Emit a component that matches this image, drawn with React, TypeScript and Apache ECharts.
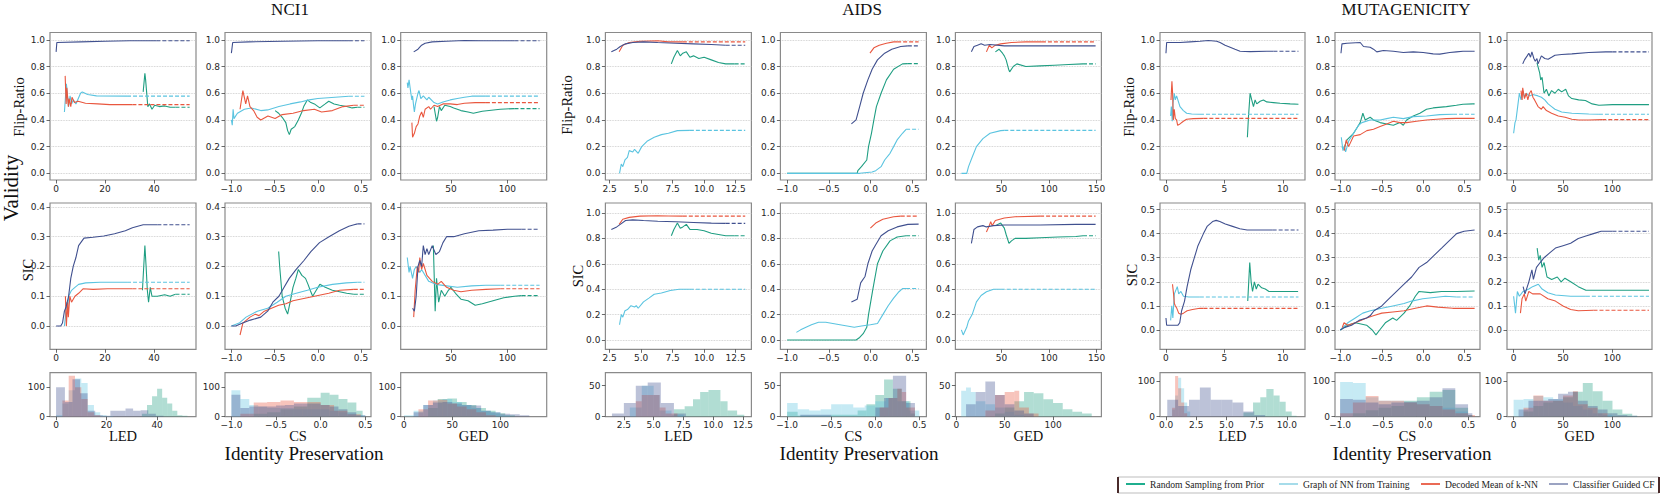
import React, { useEffect, useRef } from "react";
import * as echarts from "echarts";

// ---------------- names ----------------
const seriesNames = ["Random Sampling from Prior", "Graph of NN from Training", "Decoded Mean of k-NN", "Classifier Guided CF"];
const groupTitles = ["NCI1", "AIDS", "MUTAGENICITY"];
const metricNames = ["LED", "CS", "GED"];
const rowNames = ["Flip-Ratio", "SIC"];

// ---------------- NCI1 lines ----------------
const nciLedFlipRnd = [[35.6,0.61],[36.3,0.75],[36.6,0.70],[37.5,0.50],[38.2,0.52],[39.2,0.48],[40.3,0.51],[42.2,0.50],[44.4,0.505],[46.6,0.495],[48.8,0.495]];
const nciLedFlipNn = [[3.4,0.46],[4.2,0.67],[5.1,0.50],[5.7,0.58],[6.3,0.52],[7.0,0.55],[8.1,0.52],[10,0.60],[10.7,0.61],[12.9,0.59],[16.5,0.58],[29,0.578]];
const nciLedFlipDm = [[3.7,0.73],[4.1,0.52],[4.4,0.64],[5.0,0.50],[5.3,0.56],[6.0,0.50],[6.5,0.57],[7.5,0.53],[9,0.54],[12,0.525],[17,0.52],[22,0.515],[31.2,0.515]];
const nciLedFlipCg = [[0,0.91],[0.3,0.98],[10,0.985],[20,0.99],[30,0.993],[41,0.993]];

const nciCsFlipRnd = [[-0.494,0.47],[-0.453,0.45],[-0.412,0.42],[-0.37,0.38],[-0.349,0.32],[-0.329,0.29],[-0.308,0.33],[-0.266,0.35],[-0.225,0.40],[-0.184,0.46],[-0.163,0.50],[-0.121,0.55],[-0.08,0.53],[-0.039,0.52],[0.003,0.50],[0.024,0.49],[0.086,0.52],[0.127,0.54],[0.189,0.52],[0.252,0.51],[0.334,0.50],[0.397,0.49],[0.459,0.495]];
const nciCsFlipNn = [[-1,0.40],[-0.99,0.36],[-0.98,0.48],[-0.97,0.41],[-0.93,0.45],[-0.85,0.48],[-0.77,0.49],[-0.66,0.47],[-0.58,0.475],[-0.45,0.50],[-0.32,0.52],[-0.2,0.535],[-0.1,0.55],[0,0.56],[0.2,0.57],[0.36,0.577]];
const nciCsFlipDm = [[-0.9,0.48],[-0.867,0.62],[-0.834,0.52],[-0.813,0.58],[-0.785,0.50],[-0.743,0.47],[-0.702,0.42],[-0.66,0.40],[-0.577,0.43],[-0.494,0.41],[-0.412,0.44],[-0.287,0.45],[-0.163,0.47],[-0.039,0.48],[0.044,0.46],[0.169,0.47],[0.293,0.50],[0.417,0.51]];
const nciCsFlipCg = [[-1,0.90],[-0.985,0.98],[-0.8,0.985],[-0.4,0.99],[0,0.993],[0.36,0.993]];

const nciGedFlipRnd = [[35.1,0.50],[36.1,0.45],[37.3,0.39],[38.3,0.42],[39.9,0.50],[41.5,0.47],[44.6,0.51],[49.4,0.50],[52.5,0.49],[58.9,0.47],[65.2,0.46],[69.9,0.45],[77.8,0.465],[93.7,0.48],[106.3,0.485]];
const nciGedFlipNn = [[11.4,0.68],[12.0,0.64],[13.0,0.70],[14.6,0.60],[15.5,0.55],[16.1,0.58],[17.1,0.50],[17.7,0.46],[18.7,0.52],[20.9,0.60],[21.8,0.62],[23.4,0.56],[25.6,0.58],[28.8,0.55],[30.4,0.57],[35.1,0.53],[38.3,0.52],[43.0,0.535],[49.4,0.55],[55.7,0.56],[62.0,0.57],[68.4,0.578],[81.0,0.578]];
const nciGedFlipDm = [[15.5,0.38],[16.1,0.27],[17.7,0.30],[19.3,0.35],[20.9,0.37],[22.5,0.43],[24.1,0.46],[25.6,0.42],[27.2,0.48],[30.4,0.50],[32.0,0.48],[35.1,0.51],[38.3,0.50],[43.0,0.52],[49.4,0.52],[55.7,0.515],[62.0,0.525],[71.5,0.53],[81.0,0.53]];
const nciGedFlipCg = [[17.1,0.91],[20.9,0.93],[24.1,0.96],[27.2,0.975],[33.5,0.985],[46.2,0.99],[62.0,0.995],[77.8,0.993],[106.3,0.993]];

const nciLedSicRnd = [[35.3,0.12],[36.3,0.27],[36.8,0.20],[37.3,0.12],[37.8,0.08],[38.5,0.13],[39.2,0.10],[41.4,0.10],[44.4,0.105],[46.6,0.10],[48.8,0.107]];
const nciLedSicNn = [[3.4,0.0],[3.8,0.03],[4.2,0.08],[4.7,0.05],[5.1,0.10],[6.3,0.12],[7.7,0.13],[9.2,0.14],[12.1,0.145],[18,0.147],[29,0.147]];
const nciLedSicDm = [[3.8,0.10],[4.2,0.0],[4.7,0.08],[5.0,0.03],[5.6,0.10],[6.3,0.08],[7.7,0.10],[9.2,0.11],[11,0.125],[15.1,0.123],[21,0.125],[31.2,0.125]];
const nciLedSicCg = [[0,0],[1.9,0],[2.6,0.01],[3.4,0.05],[4.1,0.065],[5.1,0.10],[6.0,0.16],[7.0,0.20],[8.1,0.23],[9.2,0.27],[11.4,0.295],[15.1,0.298],[19.5,0.302],[23.9,0.31],[28.3,0.32],[31.2,0.33],[33.4,0.335],[35.6,0.34],[41.4,0.34]];

const nciCsSicRnd = [[-0.453,0.25],[-0.441,0.20],[-0.412,0.10],[-0.378,0.06],[-0.349,0.04],[-0.32,0.08],[-0.287,0.13],[-0.254,0.16],[-0.225,0.19],[-0.184,0.17],[-0.142,0.16],[-0.113,0.14],[-0.088,0.12],[-0.059,0.10],[-0.018,0.12],[0.024,0.14],[0.086,0.13],[0.169,0.12],[0.252,0.115],[0.334,0.11],[0.417,0.107]];
const nciCsSicNn = [[-1,0],[-0.91,0.01],[-0.83,0.03],[-0.7,0.05],[-0.58,0.06],[-0.47,0.08],[-0.37,0.10],[-0.25,0.11],[-0.12,0.12],[0.0,0.13],[0.17,0.14],[0.33,0.145],[0.46,0.147]];
const nciCsSicDm = [[-0.9,-0.03],[-0.867,0.01],[-0.826,0.02],[-0.785,0.03],[-0.722,0.04],[-0.681,0.035],[-0.619,0.05],[-0.536,0.06],[-0.453,0.07],[-0.37,0.075],[-0.287,0.085],[-0.204,0.09],[-0.121,0.095],[-0.039,0.10],[0.044,0.105],[0.127,0.11],[0.252,0.12],[0.417,0.123]];
const nciCsSicCg = [[-1,0],[-0.95,0],[-0.87,0.01],[-0.78,0.02],[-0.66,0.03],[-0.58,0.05],[-0.52,0.08],[-0.45,0.10],[-0.39,0.13],[-0.33,0.16],[-0.25,0.19],[-0.16,0.22],[-0.08,0.25],[0.02,0.28],[0.13,0.30],[0.25,0.32],[0.36,0.335],[0.42,0.34],[0.46,0.343]];

const nciGedSicRnd = [[34.5,0.27],[36.1,0.05],[37.3,0.16],[39.2,0.08],[41.5,0.12],[44.6,0.10],[47.8,0.12],[50,0.13],[54.1,0.11],[58.9,0.09],[65.2,0.085],[71.5,0.07],[77.8,0.075],[87.3,0.085],[96.8,0.095],[106.3,0.10],[112.6,0.102]];
const nciGedSicNn = [[11.4,0.23],[13.0,0.18],[13.9,0.20],[16.1,0.16],[17.7,0.19],[19.3,0.20],[22.5,0.18],[24.1,0.19],[30.4,0.15],[36.7,0.14],[46.2,0.135],[55.7,0.13],[68.4,0.135],[81.0,0.137],[93.7,0.137]];
const nciGedSicDm = [[17.1,0.03],[18.4,0.12],[20.3,0.20],[21.5,0.18],[22.5,0.23],[24.1,0.19],[25.6,0.21],[28.8,0.17],[33.5,0.15],[38.3,0.14],[41.5,0.15],[46.2,0.13],[52.5,0.12],[58.9,0.115],[68.4,0.12],[81.0,0.123],[93.7,0.125]];
const nciGedSicCg = [[16.1,0.06],[17.7,0.05],[19.3,0.10],[20.9,0.20],[22.5,0.22],[24.1,0.20],[25.6,0.27],[27.2,0.24],[28.8,0.26],[30.4,0.24],[33.5,0.27],[36.7,0.24],[39.9,0.25],[43.0,0.28],[46.2,0.30],[52.5,0.30],[62.0,0.31],[74.7,0.32],[87.3,0.322],[100,0.325],[112.6,0.325]];

// ---------------- AIDS lines ----------------
const aidsLedFlipRnd = [[7.4,0.82],[7.6,0.87],[7.88,0.92],[8.11,0.88],[8.31,0.90],[8.59,0.91],[8.87,0.87],[9.16,0.88],[9.58,0.86],[10.0,0.87],[10.57,0.85],[11.14,0.83],[11.71,0.82],[12.42,0.82]];
const aidsLedFlipNn = [[3.29,0.0],[3.43,0.07],[3.55,0.05],[3.72,0.10],[3.92,0.12],[4.06,0.17],[4.34,0.16],[4.48,0.18],[4.77,0.15],[5.05,0.20],[5.47,0.24],[6.04,0.27],[6.61,0.29],[7.17,0.30],[7.88,0.32],[8.87,0.322]];
const aidsLedFlipDm = [[3.26,0.91],[3.55,0.96],[4.06,0.98],[4.91,0.99],[6.32,0.993],[7.17,0.985],[8.31,0.985]];
const aidsLedFlipCg = [[2.64,0.91],[3.07,0.93],[3.35,0.95],[3.77,0.97],[4.34,0.98],[5.19,0.985],[6.32,0.98],[7.74,0.975],[9.16,0.97],[10.57,0.965],[11.71,0.96]];

const aidsCsFlipRnd = [[-1,0],[-0.162,0],[-0.154,0.02],[-0.111,0.05],[-0.047,0.10],[-0.026,0.20],[0.009,0.30],[0.038,0.40],[0.068,0.50],[0.124,0.60],[0.188,0.70],[0.274,0.78],[0.38,0.82],[0.444,0.822]];
const aidsCsFlipNn = [[-1,0],[-0.132,0],[0.017,0.01],[0.06,0.02],[0.124,0.05],[0.167,0.10],[0.231,0.15],[0.274,0.20],[0.316,0.25],[0.38,0.30],[0.423,0.33]];
const aidsCsFlipDm = [[-0.009,0.90],[0.038,0.94],[0.102,0.96],[0.188,0.975],[0.274,0.985],[0.316,0.985]];
const aidsCsFlipCg = [[-0.231,0.37],[-0.175,0.40],[-0.132,0.50],[-0.09,0.60],[-0.034,0.70],[0.017,0.78],[0.081,0.85],[0.167,0.90],[0.252,0.93],[0.359,0.95],[0.444,0.955]];

const aidsGedFlipRnd = [[43.6,0.91],[47.4,0.93],[51.1,0.90],[53.0,0.88],[54.9,0.85],[57.5,0.78],[58.6,0.76],[62.4,0.80],[66.2,0.82],[75.6,0.80],[90.6,0.805],[105.6,0.81],[120.7,0.815],[135.7,0.82]];
const aidsGedFlipNn = [[7.9,0],[13.5,0],[15.4,0.05],[19.2,0.12],[23.7,0.20],[30.5,0.26],[38.0,0.30],[49.2,0.32],[53.0,0.322]];
const aidsGedFlipDm = [[34.2,0.91],[37.2,0.96],[39.8,0.94],[43.6,0.96],[49.2,0.97],[60.5,0.98],[75.6,0.985],[92.5,0.985]];
const aidsGedFlipCg = [[18.4,0.91],[21.1,0.95],[24.8,0.96],[28.6,0.97],[32.3,0.96],[38.0,0.965],[53.0,0.955],[90.6,0.955],[148.9,0.955]];

const aidsLedSicRnd = [[7.4,0.82],[7.6,0.87],[7.88,0.92],[8.11,0.88],[8.31,0.89],[8.59,0.91],[8.87,0.87],[9.44,0.87],[10.0,0.86],[10.57,0.84],[11.14,0.83],[11.71,0.82],[12.42,0.82]];
const aidsLedSicNn = [[3.29,0.12],[3.43,0.20],[3.55,0.18],[3.72,0.23],[3.92,0.24],[4.2,0.27],[4.48,0.26],[4.62,0.27],[4.77,0.25],[5.19,0.30],[5.62,0.33],[6.04,0.36],[6.61,0.37],[7.32,0.39],[8.02,0.40],[8.87,0.40]];
const aidsLedSicDm = [[3.26,0.91],[3.55,0.95],[4.06,0.965],[4.91,0.975],[6.32,0.978],[7.17,0.976],[8.31,0.975]];
const aidsLedSicCg = [[2.64,0.87],[3.07,0.89],[3.35,0.91],[3.77,0.94],[4.34,0.945],[5.19,0.94],[6.32,0.935],[7.74,0.93],[9.16,0.925],[10.57,0.92],[11.71,0.918]];

const aidsCsSicRnd = [[-1,0],[-0.175,0],[-0.132,0.02],[-0.09,0.05],[-0.047,0.10],[-0.026,0.20],[0.026,0.40],[0.081,0.60],[0.145,0.70],[0.231,0.78],[0.316,0.81],[0.423,0.82]];
const aidsCsSicNn = [[-0.889,0.06],[-0.838,0.08],[-0.774,0.10],[-0.709,0.12],[-0.624,0.14],[-0.538,0.14],[-0.453,0.13],[-0.368,0.12],[-0.282,0.11],[-0.197,0.10],[-0.111,0.11],[-0.004,0.12],[0.081,0.13],[0.145,0.20],[0.209,0.27],[0.274,0.33],[0.338,0.38],[0.38,0.405],[0.423,0.405]];
const aidsCsSicDm = [[-0.004,0.88],[0.06,0.92],[0.145,0.95],[0.274,0.97],[0.359,0.975]];
const aidsCsSicCg = [[-0.231,0.30],[-0.162,0.32],[-0.12,0.45],[-0.068,0.50],[-0.034,0.60],[0.017,0.70],[0.06,0.75],[0.124,0.82],[0.209,0.86],[0.316,0.89],[0.444,0.91],[0.573,0.912]];

const aidsGedSicRnd = [[43.6,0.90],[49.2,0.92],[53.0,0.88],[54.9,0.83],[57.9,0.76],[60.5,0.78],[64.3,0.80],[75.6,0.80],[90.6,0.805],[109.4,0.81],[128.2,0.815],[135.7,0.82]];
const aidsGedSicNn = [[7.9,0.08],[9.8,0.04],[13.5,0.10],[15.4,0.15],[19.2,0.20],[23.7,0.30],[28.6,0.35],[34.2,0.38],[41.7,0.40],[49.2,0.40]];
const aidsGedSicDm = [[34.2,0.85],[37.2,0.90],[38.7,0.93],[40.2,0.90],[43.6,0.94],[53.0,0.96],[64.3,0.97],[90.6,0.975]];
const aidsGedSicCg = [[18.4,0.76],[21.1,0.87],[24.8,0.89],[30.5,0.90],[34.2,0.89],[41.7,0.90],[53.0,0.905],[90.6,0.905],[128.2,0.91],[148.9,0.91]];

// ---------------- MUTAGENICITY lines ----------------
const mutLedFlipRnd = [[6.97,0.27],[7.06,0.42],[7.2,0.60],[7.34,0.55],[7.49,0.50],[7.63,0.55],[7.77,0.52],[8.06,0.54],[8.34,0.55],[8.63,0.535],[9.2,0.53],[9.77,0.525],[10.63,0.52],[11.34,0.518]];
const mutLedFlipNn = [[0.4,0.43],[0.46,0.50],[0.54,0.39],[0.6,0.52],[0.71,0.60],[0.8,0.55],[0.91,0.58],[1.2,0.50],[1.49,0.47],[1.77,0.45],[2.2,0.445],[2.91,0.443]];
const mutLedFlipDm = [[0.43,0.55],[0.51,0.69],[0.57,0.60],[0.63,0.40],[0.71,0.48],[0.8,0.41],[0.91,0.40],[1.0,0.36],[1.2,0.37],[1.49,0.39],[1.77,0.405],[2.34,0.41],[3.2,0.412]];
const mutLedFlipCg = [[0,0.90],[0.06,0.98],[1.2,0.98],[2.06,0.985],[2.91,0.99],[3.63,0.995],[4.34,0.99],[4.63,0.98],[5.06,0.96],[5.49,0.945],[5.91,0.93],[6.34,0.915],[7.2,0.912],[8.63,0.915],[9.2,0.915]];

const mutCsFlipRnd = [[-0.98,0.20],[-0.96,0.18],[-0.92,0.25],[-0.84,0.30],[-0.8,0.34],[-0.76,0.38],[-0.728,0.45],[-0.7,0.40],[-0.64,0.42],[-0.6,0.40],[-0.52,0.38],[-0.44,0.37],[-0.36,0.36],[-0.28,0.38],[-0.24,0.36],[-0.2,0.40],[-0.12,0.43],[-0.04,0.45],[0.04,0.48],[0.12,0.49],[0.28,0.50],[0.4,0.51],[0.48,0.518],[0.6,0.52]];
const mutCsFlipNn = [[-0.988,0.27],[-0.968,0.17],[-0.952,0.20],[-0.936,0.16],[-0.9,0.24],[-0.84,0.30],[-0.78,0.36],[-0.74,0.38],[-0.64,0.40],[-0.52,0.40],[-0.44,0.41],[-0.36,0.42],[-0.24,0.41],[-0.12,0.425],[0.04,0.43],[0.2,0.44],[0.36,0.443]];
const mutCsFlipDm = [[-0.952,0.17],[-0.928,0.25],[-0.9,0.20],[-0.84,0.28],[-0.76,0.29],[-0.68,0.32],[-0.6,0.33],[-0.52,0.35],[-0.44,0.37],[-0.36,0.39],[-0.28,0.38],[-0.2,0.38],[-0.08,0.39],[0.04,0.40],[0.16,0.405],[0.28,0.41],[0.4,0.412],[0.6,0.412]];
const mutCsFlipCg = [[-0.992,0.90],[-0.98,0.97],[-0.92,0.975],[-0.76,0.98],[-0.72,0.95],[-0.64,0.945],[-0.6,0.93],[-0.56,0.91],[-0.48,0.92],[-0.36,0.915],[-0.24,0.905],[-0.12,0.91],[0,0.905],[0.12,0.895],[0.2,0.893],[0.32,0.905],[0.4,0.91],[0.48,0.915],[0.6,0.915]];

const mutGedFlipRnd = [[23.6,0.83],[26.4,0.75],[27.4,0.70],[28.8,0.72],[30.8,0.60],[33.2,0.63],[35.6,0.58],[38.4,0.62],[41.8,0.60],[45.2,0.63],[48.6,0.61],[52.7,0.63],[55.5,0.58],[58.9,0.56],[65.8,0.55],[72.6,0.545],[79.5,0.52],[86.3,0.51],[100,0.515],[120.5,0.515],[136,0.515]];
const mutGedFlipNn = [[0,0.30],[1.4,0.38],[2.4,0.40],[4.1,0.50],[5.8,0.60],[7.5,0.55],[9.2,0.62],[11.0,0.57],[12.7,0.60],[16.1,0.58],[19.5,0.59],[24.7,0.58],[28.1,0.57],[31.5,0.55],[34.9,0.52],[38.4,0.50],[41.8,0.48],[48.6,0.46],[58.9,0.45],[76.0,0.445],[86.3,0.443]];
const mutGedFlipDm = [[7.5,0.62],[8.6,0.55],[9.2,0.64],[11.0,0.56],[12.7,0.60],[14.4,0.55],[16.1,0.60],[17.8,0.62],[19.5,0.57],[21.2,0.55],[24.7,0.50],[28.1,0.48],[29.8,0.50],[33.2,0.47],[38.4,0.45],[45.2,0.43],[52.1,0.42],[58.9,0.405],[65.8,0.40],[76.0,0.40],[89.7,0.402]];
const mutGedFlipCg = [[9.2,0.82],[11.0,0.85],[13.7,0.88],[15.4,0.90],[17.1,0.87],[18.5,0.91],[20.5,0.86],[21.9,0.84],[23.6,0.86],[24.7,0.82],[26.4,0.85],[28.1,0.88],[31.5,0.86],[34.9,0.855],[38.4,0.87],[41.8,0.885],[48.6,0.89],[58.9,0.895],[76.0,0.905],[93.2,0.91],[100,0.91]];

const mutLedSicRnd = [[7.0,0.12],[7.17,0.28],[7.29,0.20],[7.41,0.16],[7.57,0.20],[7.73,0.17],[7.88,0.19],[8.19,0.175],[8.5,0.17],[8.82,0.16],[9.44,0.16],[11.31,0.16]];
const mutLedSicNn = [[0.4,0.04],[0.5,0.10],[0.59,0.05],[0.72,0.15],[0.97,0.18],[1.09,0.15],[1.28,0.16],[1.5,0.14],[1.96,0.137],[2.9,0.137]];
const mutLedSicDm = [[0.56,0.19],[0.65,0.15],[0.72,0.11],[0.81,0.10],[0.93,0.09],[1.09,0.07],[1.28,0.065],[1.5,0.07],[1.81,0.08],[2.27,0.085],[2.9,0.09],[3.21,0.09]];
const mutLedSicCg = [[0,0.05],[0.06,0.02],[1.03,0.02],[1.18,0.03],[1.34,0.08],[1.59,0.12],[1.81,0.18],[2.12,0.25],[2.43,0.30],[2.74,0.35],[3.21,0.40],[3.52,0.43],[3.99,0.45],[4.3,0.455],[4.61,0.45],[5.08,0.44],[5.7,0.43],[6.32,0.42],[6.95,0.415],[8.5,0.415],[9.13,0.415]];

const mutCsSicRnd = [[-1,0],[-0.91,0.02],[-0.819,0.03],[-0.683,0.02],[-0.615,0.0],[-0.57,-0.02],[-0.525,0.0],[-0.457,0.03],[-0.367,0.05],[-0.321,0.04],[-0.231,0.07],[-0.163,0.10],[-0.095,0.14],[-0.05,0.16],[0.086,0.155],[0.222,0.16],[0.403,0.16],[0.62,0.162]];
const mutCsSicNn = [[-1,0],[-0.91,0.03],[-0.819,0.05],[-0.729,0.07],[-0.638,0.08],[-0.5,0.09],[-0.367,0.10],[-0.231,0.11],[-0.14,0.12],[-0.005,0.13],[0.131,0.135],[0.267,0.14],[0.403,0.137]];
const mutCsSicDm = [[-0.977,0.01],[-0.955,0.03],[-0.91,0.02],[-0.819,0.03],[-0.683,0.05],[-0.593,0.06],[-0.5,0.07],[-0.367,0.075],[-0.231,0.08],[-0.095,0.09],[0.041,0.10],[0.176,0.095],[0.357,0.09],[0.62,0.09]];
const mutCsSicCg = [[-1,0],[-0.955,0.01],[-0.864,0.02],[-0.774,0.04],[-0.683,0.05],[-0.638,0.06],[-0.593,0.08],[-0.5,0.10],[-0.412,0.13],[-0.321,0.16],[-0.231,0.19],[-0.14,0.22],[-0.05,0.26],[0.041,0.28],[0.131,0.31],[0.222,0.34],[0.312,0.37],[0.403,0.40],[0.493,0.41],[0.62,0.415]];

const mutGedSicRnd = [[23.8,0.34],[25.4,0.29],[26.9,0.31],[28.8,0.26],[30.8,0.28],[33.8,0.22],[38.5,0.21],[44.2,0.22],[48.1,0.20],[51.9,0.215],[57.7,0.20],[65.4,0.18],[73.1,0.165],[88.5,0.165],[137,0.165]];
const mutGedSicNn = [[0,0.14],[1.9,0.07],[3.8,0.16],[5.8,0.14],[9.6,0.16],[15.4,0.17],[19.2,0.18],[25,0.19],[28.8,0.17],[34.6,0.155],[42.3,0.145],[57.7,0.14],[73.1,0.14]];
const mutGedSicDm = [[6.9,0.07],[8.5,0.13],[10.8,0.15],[12.3,0.12],[15.4,0.16],[19.2,0.15],[26.9,0.15],[34.6,0.13],[42.3,0.12],[50,0.10],[57.7,0.085],[65.4,0.08],[80.8,0.082]];
const mutGedSicCg = [[9.6,0.18],[11.5,0.15],[15.4,0.20],[18.5,0.25],[20,0.21],[23.1,0.26],[26.9,0.28],[30.8,0.30],[36.5,0.32],[42.3,0.34],[50,0.35],[57.7,0.36],[65.4,0.38],[73.1,0.39],[80.8,0.40],[88.5,0.41],[100,0.41]];

// x where each column's dashed continuation ends
const nciDashEnds = [54.6, 0.54, 128.5];
const aidsDashEnds = [13.26, 0.573, 148.9];
const mutDashEnds = [11.34, 0.62, 137];

// ---------------- histograms [binStart, binEnd, count] ----------------
const nciLedHistRnd = [[34,36,10],[36,38,40],[38,40,70],[40,42,95],[42,44,65],[44,46,45],[46,48,20],[48,50,5],[50,52,3]];
const nciLedHistNn = [[0,2.5,5],[2.5,5,45],[5,7.5,90],[7.5,10,130],[10,12.5,115],[12.5,15,40],[15,17.5,15],[17.5,20,5],[20,22.5,2]];
const nciLedHistDm = [[2.5,5,55],[5,7.5,140],[7.5,10,100],[10,12.5,60],[12.5,15,15],[15,17.5,5]];
const nciLedHistCg = [[0,3.5,100],[3.5,6.5,50],[6.5,9.5,128],[9.5,12.5,80],[12.5,15.5,20],[15.5,18.5,5],[18.5,21.5,3],[21.5,24.5,20],[24.5,27.5,20],[27.5,30.5,28],[30.5,33.5,20],[33.5,36.5,22],[36.5,39.5,10],[39.5,42.5,3]];
const nciCsHistRnd = [[-0.75,-0.6,10],[-0.6,-0.45,15],[-0.45,-0.3,25],[-0.3,-0.15,35],[-0.15,0,65],[0,0.1,82],[0.1,0.2,75],[0.2,0.3,60],[0.3,0.4,48],[0.4,0.47,20]];
const nciCsHistNn = [[-1,-0.9,90],[-0.9,-0.8,60],[-0.8,-0.7,40],[-0.7,-0.6,35],[-0.6,-0.5,30],[-0.5,-0.4,30],[-0.4,-0.3,30],[-0.3,-0.2,25],[-0.2,-0.1,25],[-0.1,0,25],[0,0.1,25],[0.1,0.2,20],[0.2,0.3,15],[0.3,0.4,10],[0.4,0.5,5]];
const nciCsHistDm = [[-0.9,-0.75,10],[-0.75,-0.6,48],[-0.6,-0.45,50],[-0.45,-0.3,55],[-0.3,-0.15,50],[-0.15,0,50],[0,0.15,40],[0.15,0.3,20],[0.3,0.45,8]];
const nciCsHistCg = [[-1,-0.9,75],[-0.9,-0.8,30],[-0.8,-0.7,35],[-0.7,-0.6,35],[-0.6,-0.5,35],[-0.5,-0.4,38],[-0.4,-0.3,40],[-0.3,-0.2,45],[-0.2,-0.1,45],[-0.1,0,45],[0,0.1,40],[0.1,0.2,35],[0.2,0.3,25],[0.3,0.4,15],[0.4,0.5,5]];
const nciGedHistRnd = [[25,35,30],[35,45,60],[45,55,62],[55,65,50],[65,75,40],[75,85,30],[85,95,20],[95,105,12],[105,115,5]];
const nciGedHistNn = [[0,10,5],[10,20,20],[20,30,40],[30,40,55],[40,50,60],[50,60,50],[60,70,40],[70,80,30],[80,90,20],[90,100,15],[100,110,5]];
const nciGedHistDm = [[15,25,25],[25,35,55],[35,45,58],[45,55,45],[55,65,35],[65,75,25],[75,85,15],[85,95,5]];
const nciGedHistCg = [[10,20,15],[20,30,40],[30,40,48],[40,50,50],[50,60,45],[60,70,40],[70,80,38],[80,90,20],[90,100,15],[100,110,10],[110,120,8],[120,130,5]];

const aidsLedHistRnd = [[6.7,7.6,12],[7.6,8.3,17],[8.3,8.9,28],[8.9,9.6,40],[9.6,10.6,43],[10.6,11.2,25],[11.2,12,10],[12,12.6,3]];
const aidsLedHistNn = [[3,4,15],[4,5,50],[5,5.5,35],[5.5,6.5,10],[6.5,7.5,3]];
const aidsLedHistDm = [[3.5,4,25],[4,5,35],[5,5.5,35],[5.5,6,15],[6,7,5]];
const aidsLedHistCg = [[1.5,2.5,5],[2.5,3.5,22],[3.5,4.5,50],[4.5,5.6,55],[5.6,6.7,22],[6.7,7.7,5]];
const aidsCsHistRnd = [[-1,-0.88,8],[-0.88,-0.5,2],[-0.5,-0.2,3],[-0.2,-0.1,10],[-0.1,0,20],[0,0.1,35],[0.1,0.2,60],[0.2,0.3,45],[0.3,0.4,25],[0.4,0.45,5]];
const aidsCsHistNn = [[-1,-0.88,22],[-0.88,-0.75,12],[-0.75,-0.62,10],[-0.62,-0.5,12],[-0.5,-0.38,20],[-0.38,-0.25,20],[-0.25,-0.12,15],[-0.12,0,18],[0,0.12,25],[0.12,0.25,30],[0.25,0.38,25],[0.38,0.5,10]];
const aidsCsHistDm = [[0.05,0.15,15],[0.15,0.25,30],[0.25,0.3,45],[0.3,0.35,40],[0.35,0.45,15]];
const aidsCsHistCg = [[-0.85,-0.5,3],[0,0.1,15],[0.1,0.2,30],[0.2,0.35,66],[0.35,0.45,22]];
const aidsGedHistRnd = [[40,50,5],[50,60,15],[60,70,25],[70,80,40],[80,90,38],[90,100,28],[100,110,22],[110,120,12],[120,130,8],[130,140,5]];
const aidsGedHistNn = [[5,10,42],[10,15,47],[15,20,40],[20,30,25],[30,40,20],[40,50,15],[50,60,8],[60,70,3]];
const aidsGedHistDm = [[30,40,10],[40,50,35],[50,60,40],[60,65,42],[65,75,15],[75,85,5]];
const aidsGedHistCg = [[10,20,20],[20,30,40],[30,40,57],[40,50,35],[50,60,20],[60,70,10],[70,80,5]];

const mutLedHistRnd = [[6.4,7.2,12],[7.2,7.8,40],[7.8,8.3,55],[8.3,8.9,78],[8.9,9.4,60],[9.4,9.9,42],[9.9,10.4,15],[10.4,10.8,3]];
const mutLedHistNn = [[0.5,0.75,20],[0.75,1.0,60],[1.0,1.25,110],[1.25,1.5,80],[1.5,1.75,40],[1.75,2.0,15]];
const mutLedHistDm = [[0.5,0.75,25],[0.75,1.0,115],[1.0,1.25,80],[1.25,1.5,40],[1.5,1.75,10]];
const mutLedHistCg = [[0.1,1.0,48],[1.0,1.9,30],[1.9,2.8,48],[2.8,3.7,82],[3.7,4.6,48],[4.6,5.5,48],[5.5,6.4,40],[6.4,7.3,15],[7.3,8.2,5]];
const mutCsHistRnd = [[-0.85,-0.7,10],[-0.7,-0.55,18],[-0.55,-0.4,25],[-0.4,-0.25,30],[-0.25,-0.1,45],[-0.1,0.05,55],[0.05,0.2,70],[0.2,0.35,75],[0.35,0.5,25],[0.5,0.55,5]];
const mutCsHistNn = [[-1,-0.85,98],[-0.85,-0.7,95],[-0.7,-0.55,55],[-0.55,-0.4,45],[-0.4,-0.25,45],[-0.25,-0.1,40],[-0.1,0.05,35],[0.05,0.2,30],[0.2,0.35,25],[0.35,0.5,15],[0.5,0.55,5]];
const mutCsHistDm = [[-1,-0.85,10],[-0.85,-0.7,40],[-0.7,-0.55,58],[-0.55,-0.4,45],[-0.4,-0.25,45],[-0.25,-0.1,40],[-0.1,0.05,35],[0.05,0.2,30],[0.2,0.35,20],[0.35,0.5,10],[0.5,0.58,5]];
const mutCsHistCg = [[-1,-0.85,50],[-0.85,-0.7,48],[-0.7,-0.55,40],[-0.55,-0.4,35],[-0.4,-0.25,40],[-0.25,-0.1,42],[-0.1,0.05,45],[0.05,0.2,55],[0.2,0.35,80],[0.35,0.5,35],[0.5,0.55,10]];
const mutGedHistRnd = [[10,20,15],[20,30,30],[30,40,40],[40,50,45],[50,60,55],[60,70,70],[70,80,95],[80,90,72],[90,100,45],[100,110,20],[110,120,8],[120,125,3]];
const mutGedHistNn = [[0,10,48],[10,20,50],[20,30,58],[30,40,55],[40,50,50],[50,60,40],[60,70,30],[70,80,20],[80,90,10],[90,100,5]];
const mutGedHistDm = [[10,20,25],[20,30,60],[30,40,45],[40,50,45],[50,60,60],[60,65,72],[65,75,35],[75,85,25],[85,95,10]];
const mutGedHistCg = [[5,15,20],[15,25,45],[25,35,45],[35,45,50],[45,55,65],[55,65,70],[65,75,45],[75,85,30],[85,95,20],[95,105,10],[105,115,5],[115,125,3]];

// ---------------- tick labels ----------------
const flipTicks = [0, 0.2, 0.4, 0.6, 0.8, 1.0];
const nciSicTicks = [0, 0.1, 0.2, 0.3, 0.4];
const aidsSicTicks = [0, 0.2, 0.4, 0.6, 0.8, 1.0];
const mutSicTicks = [0, 0.1, 0.2, 0.3, 0.4, 0.5];
const nciHistTicks = [0, 100];
const aidsHistTicks = [0, 50];
const mutHistTicks = [0, 100];
const csTicks = [-1, -0.5, 0, 0.5];
const nciLedTicks = [0, 20, 40];
const nciGedTicks = [50, 100];
const nciGedHistTicks = [0, 50, 100];
const aidsLedTicks = [2.5, 5, 7.5, 10, 12.5];
const aidsGedTicks = [50, 100, 150];
const aidsGedHistTicks = [0, 50, 100];
const mutLedTicks = [0, 5, 10];
const mutLedHistTicks = [0, 2.5, 5, 7.5, 10];
const mutGedTicks = [0, 50, 100];

// ---------------- assembly ----------------
const lineData = [
  [
    [[nciLedFlipRnd, nciLedFlipNn, nciLedFlipDm, nciLedFlipCg], [nciLedSicRnd, nciLedSicNn, nciLedSicDm, nciLedSicCg]],
    [[nciCsFlipRnd, nciCsFlipNn, nciCsFlipDm, nciCsFlipCg], [nciCsSicRnd, nciCsSicNn, nciCsSicDm, nciCsSicCg]],
    [[nciGedFlipRnd, nciGedFlipNn, nciGedFlipDm, nciGedFlipCg], [nciGedSicRnd, nciGedSicNn, nciGedSicDm, nciGedSicCg]],
  ],
  [
    [[aidsLedFlipRnd, aidsLedFlipNn, aidsLedFlipDm, aidsLedFlipCg], [aidsLedSicRnd, aidsLedSicNn, aidsLedSicDm, aidsLedSicCg]],
    [[aidsCsFlipRnd, aidsCsFlipNn, aidsCsFlipDm, aidsCsFlipCg], [aidsCsSicRnd, aidsCsSicNn, aidsCsSicDm, aidsCsSicCg]],
    [[aidsGedFlipRnd, aidsGedFlipNn, aidsGedFlipDm, aidsGedFlipCg], [aidsGedSicRnd, aidsGedSicNn, aidsGedSicDm, aidsGedSicCg]],
  ],
  [
    [[mutLedFlipRnd, mutLedFlipNn, mutLedFlipDm, mutLedFlipCg], [mutLedSicRnd, mutLedSicNn, mutLedSicDm, mutLedSicCg]],
    [[mutCsFlipRnd, mutCsFlipNn, mutCsFlipDm, mutCsFlipCg], [mutCsSicRnd, mutCsSicNn, mutCsSicDm, mutCsSicCg]],
    [[mutGedFlipRnd, mutGedFlipNn, mutGedFlipDm, mutGedFlipCg], [mutGedSicRnd, mutGedSicNn, mutGedSicDm, mutGedSicCg]],
  ],
];
const dashEnds = [nciDashEnds, aidsDashEnds, mutDashEnds];
const histData = [
  [[nciLedHistRnd, nciLedHistNn, nciLedHistDm, nciLedHistCg], [nciCsHistRnd, nciCsHistNn, nciCsHistDm, nciCsHistCg], [nciGedHistRnd, nciGedHistNn, nciGedHistDm, nciGedHistCg]],
  [[aidsLedHistRnd, aidsLedHistNn, aidsLedHistDm, aidsLedHistCg], [aidsCsHistRnd, aidsCsHistNn, aidsCsHistDm, aidsCsHistCg], [aidsGedHistRnd, aidsGedHistNn, aidsGedHistDm, aidsGedHistCg]],
  [[mutLedHistRnd, mutLedHistNn, mutLedHistDm, mutLedHistCg], [mutCsHistRnd, mutCsHistNn, mutCsHistDm, mutCsHistCg], [mutGedHistRnd, mutGedHistNn, mutGedHistDm, mutGedHistCg]],
];
const yTicks = [[flipTicks, nciSicTicks, nciHistTicks], [flipTicks, aidsSicTicks, aidsHistTicks], [flipTicks, mutSicTicks, mutHistTicks]];
const xTicksLine = [[nciLedTicks, csTicks, nciGedTicks], [aidsLedTicks, csTicks, aidsGedTicks], [mutLedTicks, csTicks, mutGedTicks]];
const xTicksHist = [[nciLedTicks, csTicks, nciGedHistTicks], [aidsLedTicks, csTicks, aidsGedHistTicks], [mutLedHistTicks, csTicks, mutGedTicks]];

// ---------------- layout & style ----------------
const COL_LEFT = [[50, 225, 400.7], [605.4, 780.4, 955.4], [1160, 1335, 1507]];
const COL_WIDTH = [146, 146, 145];
const ROW_TOP = [32.5, 203, 372.7];
const ROW_HEIGHT = [147.5, 146.3, 44];
const X_LINE_RANGE = [[[-2.5, 57.2], [-1.074, 0.616], [5.6, 134.8]], [[2.17, 13.75], [-1.08, 0.666], [1.6, 155]], [[-0.51, 11.9], [-1.064, 0.685], [-6.7, 140]]];
const X_HIST_RANGE = [[[-2.4, 55.4], [-1.072, 0.564], [-3.4, 148]], [[0.95, 13.2], [-1.076, 0.58], [-1, 150]], [[-0.5, 11.5], [-1.06, 0.64], [-6.7, 140]]];
const Y_RANGE = [[[-0.05, 1.055], [-0.078, 0.413], [0, 150]], [[-0.05, 1.055], [-0.073, 1.078], [0, 71]], [[-0.05, 1.055], [-0.08, 0.527], [0, 124]]];
const X_DEC_LINE = [[0, 1, 0], [1, 1, 0], [0, 1, 0]];
const X_DEC_HIST = [[0, 1, 0], [1, 1, 0], [1, 1, 0]];
const Y_DEC = [1, 1, 0];

const LINE_COLORS = ["#1f9e82", "#5bc4e0", "#e9573f", "#40508f"];
const HIST_COLORS = ["rgba(31,158,130,0.35)", "rgba(91,196,224,0.35)", "rgba(233,87,63,0.35)", "rgba(64,80,143,0.35)"];
const LEGEND_COLORS = ["#1fae8e", "#a6dcea", "#ea6a55", "#9ba3c2"];
const LEGEND_LEFT = [1126, 1279, 1421, 1549];
const SERIF = "Liberation Serif";
const SANS = "DejaVu Sans";

const TITLE_POS = [[290, 9.5], [862, 9.5], [1406, 9.5]];
const FLIP_LABEL_POS = [[19, 107], [567, 105], [1128.5, 107]];
const SIC_LABEL_POS = [[27.7, 270], [578, 276], [1132, 275]];
const IDP_POS = [[304, 453], [859, 453], [1412, 453]];

const fmt = (d: number) => (v: number) => v.toFixed(d).replace("-", "\u2212");

function buildOption() {
  const grids: any[] = [];
  const xAxes: any[] = [];
  const yAxes: any[] = [];
  const lineSeries: any[] = [];
  const histSeries: any[] = [];
  const graphic: any[] = [];
  let ai = 0;
  const tickStyle = { show: true, length: 3.5, inside: false, lineStyle: { color: "#444", width: 0.8 } };
  const labelStyle = { fontSize: 9, fontFamily: SANS, color: "#262626" };

  for (let g = 0; g < 3; g++) {
    for (let m = 0; m < 3; m++) {
      for (let r = 0; r < 3; r++) {
        grids.push({
          left: COL_LEFT[g][m], top: ROW_TOP[r], width: COL_WIDTH[g], height: ROW_HEIGHT[r],
          show: true, borderColor: "#8a8a8a", borderWidth: 1.2, backgroundColor: "#fff",
          containLabel: false, outerBoundsMode: "none",
        });
        const xr = r < 2 ? X_LINE_RANGE[g][m] : X_HIST_RANGE[g][m];
        const xt = r < 2 ? xTicksLine[g][m] : xTicksHist[g][m];
        const xd = r < 2 ? X_DEC_LINE[g][m] : X_DEC_HIST[g][m];
        xAxes.push({
          type: "value", gridIndex: ai, min: xr[0], max: xr[1],
          axisLine: { show: false, onZero: false },
          axisTick: { ...tickStyle, customValues: xt },
          axisLabel: { ...labelStyle, customValues: xt, formatter: fmt(xd), margin: 4 },
          splitLine: { show: false },
        });
        const yr = Y_RANGE[g][r];
        const yt = yTicks[g][r];
        yAxes.push({
          type: "value", gridIndex: ai, min: yr[0], max: yr[1],
          axisLine: { show: false, onZero: false },
          axisTick: { ...tickStyle, customValues: yt },
          axisLabel: { ...labelStyle, customValues: yt, formatter: fmt(Y_DEC[r]), margin: 5 },
          splitLine: { show: r < 2, lineStyle: { type: "dotted", color: "#c4c4c4", width: 0.8 } },
        });

        if (r < 2) {
          const sets = lineData[g][m][r];
          const xEnd = dashEnds[g][m];
          sets.forEach((pts: number[][], si: number) => {
            lineSeries.push({
              type: "line", name: seriesNames[si], xAxisIndex: ai, yAxisIndex: ai, data: pts,
              showSymbol: false, symbol: "none", silent: true, z: 3 + si,
              lineStyle: { color: LINE_COLORS[si], width: 1.1 }, itemStyle: { color: LINE_COLORS[si] },
            });
            const last = pts[pts.length - 1];
            if (xEnd > last[0] + 1e-9) {
              lineSeries.push({
                type: "line", name: seriesNames[si], xAxisIndex: ai, yAxisIndex: ai,
                data: [last, [xEnd, last[1]]],
                showSymbol: false, symbol: "none", silent: true, z: 3 + si,
                lineStyle: { color: LINE_COLORS[si], width: 1.1, type: [4, 2] }, itemStyle: { color: LINE_COLORS[si] },
              });
            }
          });
        } else {
          const sets = histData[g][m];
          sets.forEach((bins: number[][], si: number) => {
            histSeries.push({
              type: "custom", name: seriesNames[si], xAxisIndex: ai, yAxisIndex: ai, data: bins,
              encode: { x: [0, 1], y: 2 }, silent: true, clip: true, z: 2,
              itemStyle: { color: LINE_COLORS[si] },
              renderItem: (params: any, api: any) => {
                const a = api.coord([api.value(0), api.value(2)]);
                const b = api.coord([api.value(1), 0]);
                return {
                  type: "rect",
                  shape: { x: a[0], y: a[1], width: b[0] - a[0], height: b[1] - a[1] },
                  style: { fill: HIST_COLORS[si] },
                };
              },
            });
          });
        }
        ai++;
      }
      graphic.push({
        type: "text", x: COL_LEFT[g][m] + COL_WIDTH[g] / 2, y: 436, silent: true,
        style: { text: metricNames[m], fontFamily: SERIF, fontSize: 14.5, fill: "#111", align: "center", verticalAlign: "middle" },
      });
    }
    graphic.push({
      type: "text", x: TITLE_POS[g][0], y: TITLE_POS[g][1], silent: true,
      style: { text: groupTitles[g], fontFamily: SERIF, fontSize: 17, fill: "#111", align: "center", verticalAlign: "middle" },
    });
    graphic.push({
      type: "text", x: FLIP_LABEL_POS[g][0], y: FLIP_LABEL_POS[g][1], rotation: Math.PI / 2, silent: true,
      style: { text: rowNames[0], fontFamily: SERIF, fontSize: 14.5, fill: "#111", align: "center", verticalAlign: "middle" },
    });
    graphic.push({
      type: "text", x: SIC_LABEL_POS[g][0], y: SIC_LABEL_POS[g][1], rotation: Math.PI / 2, silent: true,
      style: { text: rowNames[1], fontFamily: SERIF, fontSize: 14.5, fill: "#111", align: "center", verticalAlign: "middle" },
    });
    graphic.push({
      type: "text", x: IDP_POS[g][0], y: IDP_POS[g][1], silent: true,
      style: { text: "Identity Preservation", fontFamily: SERIF, fontSize: 19, fill: "#111", align: "center", verticalAlign: "middle" },
    });
  }
  graphic.push({
    type: "text", x: 10.5, y: 188, rotation: Math.PI / 2, silent: true,
    style: { text: "Validity", fontFamily: SERIF, fontSize: 21, fill: "#111", align: "center", verticalAlign: "middle" },
  });
  // legend frame
  graphic.push({
    type: "rect", silent: true, z: -1,
    shape: { x: 1118, y: 477, width: 541, height: 16 },
    style: { fill: "#fff", stroke: "#bdbdbd", lineWidth: 1 },
  });
  graphic.push({ type: "line", silent: true, shape: { x1: 1118, y1: 477, x2: 1118, y2: 493 }, style: { stroke: "#4a2b2b", lineWidth: 2 } });
  graphic.push({ type: "line", silent: true, shape: { x1: 1659, y1: 477, x2: 1659, y2: 493 }, style: { stroke: "#4a2b2b", lineWidth: 2 } });

  const legends = seriesNames.map((n, i) => ({
    left: LEGEND_LEFT[i], top: 479, width: 200, padding: 0, itemWidth: 19, itemHeight: 2, icon: "rect", selectedMode: false,
    textStyle: { fontFamily: SERIF, fontSize: 9.6, color: "#222" },
    data: [{ name: n, itemStyle: { color: LEGEND_COLORS[i] } }],
  }));

  return {
    animation: false,
    backgroundColor: "#fff",
    grid: grids,
    xAxis: xAxes,
    yAxis: yAxes,
    series: [...histSeries, ...lineSeries],
    legend: legends,
    graphic,
  };
}

export default function App() {
  const ref = useRef<HTMLDivElement>(null);
  useEffect(() => {
    if (!ref.current) return;
    const chart = echarts.init(ref.current, null, { renderer: "svg" });
    chart.setOption(buildOption() as any);
    return () => chart.dispose();
  }, []);
  return <div ref={ref} style={{ position: "fixed", left: 0, top: 0, width: 1661, height: 495, background: "#fff" }} />;
}
